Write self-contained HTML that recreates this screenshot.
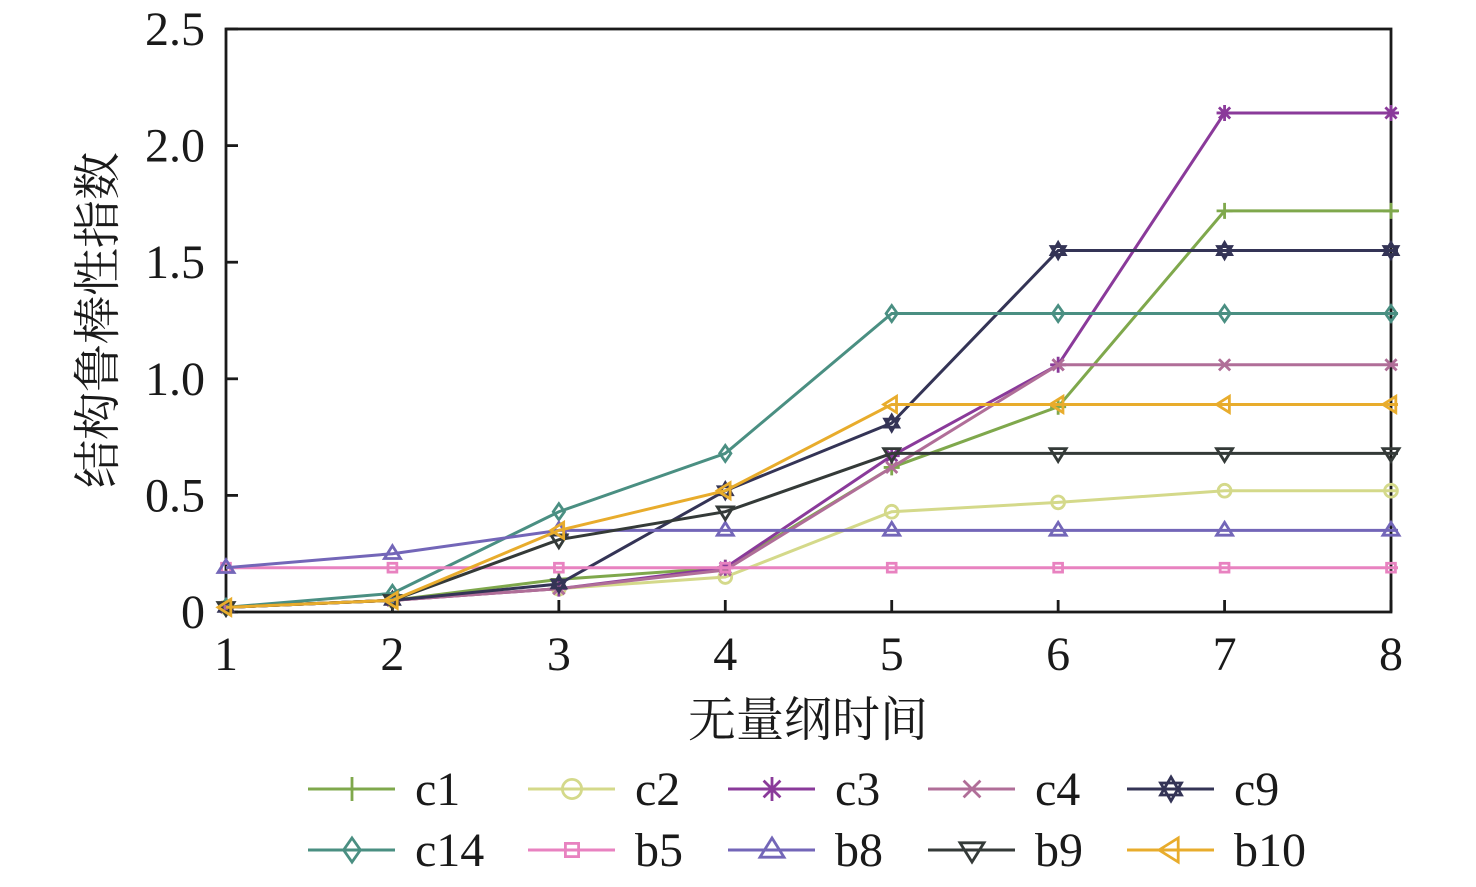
<!DOCTYPE html>
<html><head><meta charset="utf-8"><style>
body{margin:0;background:#fff}
svg text{font-family:"Liberation Serif","Noto Serif CJK SC",serif;fill:#1a1a1a}
</style></head><body>
<svg id="chart" width="1476" height="882" xmlns="http://www.w3.org/2000/svg">
<g id="plot"></g>
<text x="808" y="736" font-size="48" text-anchor="middle" style="font-family:'Noto Serif CJK SC',serif">无量纲时间</text>
<text transform="translate(114,320) rotate(-90)" font-size="48" text-anchor="middle" style="font-family:'Noto Serif CJK SC',serif">结构鲁棒性指数</text>
<g id="legend"></g>
</svg>
<script>
const xCats=[1,2,3,4,5,6,7,8];
const yTicks=[0,0.5,1.0,1.5,2.0,2.5];
const yTickLabels=["0","0.5","1.0","1.5","2.0","2.5"];
const seriesNames=["c1","c2","c3","c4","c9","c14","b5","b8","b9","b10"];
const c1=[0.02,0.05,0.14,0.19,0.62,0.88,1.72,1.72];
const c2=[0.02,0.05,0.10,0.15,0.43,0.47,0.52,0.52];
const c3=[0.02,0.05,0.10,0.19,0.67,1.06,2.14,2.14];
const c4=[0.02,0.05,0.10,0.18,0.62,1.06,1.06,1.06];
const c9=[0.02,0.05,0.12,0.52,0.81,1.55,1.55,1.55];
const c14=[0.02,0.08,0.43,0.68,1.28,1.28,1.28,1.28];
const b5=[0.19,0.19,0.19,0.19,0.19,0.19,0.19,0.19];
const b8=[0.19,0.25,0.35,0.35,0.35,0.35,0.35,0.35];
const b9=[0.02,0.05,0.31,0.43,0.68,0.68,0.68,0.68];
const b10=[0.02,0.05,0.35,0.52,0.89,0.89,0.89,0.89];
const seriesValues=[c1,c2,c3,c4,c9,c14,b5,b8,b9,b10];
const colors=["#7fa84c","#d4d98a","#8a3a9a","#b06e98","#343456","#4a8f82","#e882c0","#7366b8","#343a38","#e8ac2c"];
const markers=["plus","circle","star","x","david","diamond","square","tri","tridown","trileft"];
const X0=226,X1=1391,Y0=612,Y1=29;
const xs=v=>X0+(v-1)*(X1-X0)/7;
const ys=v=>Y0-v*(Y0-Y1)/2.5;
const NS="http://www.w3.org/2000/svg";
const plot=document.getElementById('plot');
function mk(tag,attrs,parent){const e=document.createElementNS(NS,tag);for(const k in attrs)e.setAttribute(k,attrs[k]);parent.appendChild(e);return e;}
function marker(type,cx,cy,col,parent,s){
  s=s||9;const g=mk('g',{stroke:col,'stroke-width':2.8,fill:'none'},parent);
  if(type==='plus'){mk('path',{d:`M${cx-s} ${cy}H${cx+s}M${cx} ${cy-s}V${cy+s}`},g);}
  else if(type==='circle'){mk('circle',{cx,cy,r:s*0.8},g);}
  else if(type==='star'){mk('path',{d:`M${cx-s} ${cy}H${cx+s}M${cx} ${cy-s}V${cy+s}M${cx-s*.7} ${cy-s*.7}L${cx+s*.7} ${cy+s*.7}M${cx-s*.7} ${cy+s*.7}L${cx+s*.7} ${cy-s*.7}`},g);}
  else if(type==='x'){mk('path',{d:`M${cx-s*.7} ${cy-s*.7}L${cx+s*.7} ${cy+s*.7}M${cx-s*.7} ${cy+s*.7}L${cx+s*.7} ${cy-s*.7}`},g);}
  else if(type==='david'){mk('path',{d:`M${cx} ${cy-s}L${cx+s*.87} ${cy+s*.5}H${cx-s*.87}ZM${cx} ${cy+s}L${cx+s*.87} ${cy-s*.5}H${cx-s*.87}Z`},g);}
  else if(type==='diamond'){mk('path',{d:`M${cx} ${cy-s}L${cx+s*.7} ${cy}L${cx} ${cy+s}L${cx-s*.7} ${cy}Z`},g);}
  else if(type==='square'){mk('rect',{x:cx-s*.55,y:cy-s*.55,width:s*1.1,height:s*1.1},g);}
  else if(type==='tri'){mk('path',{d:`M${cx} ${cy-s}L${cx+s} ${cy+s*.6}H${cx-s}Z`},g);}
  else if(type==='tridown'){mk('path',{d:`M${cx} ${cy+s}L${cx+s} ${cy-s*.6}H${cx-s}Z`},g);}
  else if(type==='trileft'){mk('path',{d:`M${cx-s} ${cy}L${cx+s*.6} ${cy-s}V${cy+s}Z`},g);}
  return g;
}
const fr=mk('rect',{x:X0,y:Y1,width:X1-X0,height:Y0-Y1,fill:'none',stroke:'#1a1a1a','stroke-width':2.8},plot);


yTicks.forEach((t,i)=>{
  const y=ys(t);
  const tk=mk('line',{x1:X0,x2:X0+12,y1:y,y2:y,stroke:'#1a1a1a','stroke-width':2.8},plot);
  
  
  const tx=mk('text',{x:205,y:y+16,'font-size':48,'text-anchor':'end'},plot);tx.textContent=yTickLabels[i];
  
  
});
xCats.forEach(c=>{
  const x=xs(c);
  const tk=mk('line',{x1:x,x2:x,y1:Y0,y2:Y0-12,stroke:'#1a1a1a','stroke-width':2.8},plot);
  
  
  const tx=mk('text',{x:x,y:670,'font-size':48,'text-anchor':'middle'},plot);tx.textContent=c;
  
  
});
seriesValues.forEach((vals,si)=>{
  const g=mk('g',{},plot);
  
  
  let d=vals.map((v,i)=>(i?'L':'M')+xs(xCats[i])+' '+ys(v)).join('');
  d+='H'+(X1+7);
  mk('path',{d,fill:'none',stroke:colors[si],'stroke-width':3},g);
  vals.forEach((v,i)=>{
    const m=marker(markers[si],xs(xCats[i]),ys(v),colors[si],g,8);
    
    
  });
});
const leg=document.getElementById('legend');
const colX=[308,528,728,928,1127];
seriesNames.forEach((n,i)=>{
  const x=colX[i%5],y=i<5?789:850;
  const g=mk('g',{},leg);
  
  
  mk('line',{x1:x,x2:x+87,y1:y,y2:y,stroke:colors[i],'stroke-width':3},g);
  marker(markers[i],x+44,y,colors[i],g,12);
  const t=mk('text',{x:x+107,y:y+16,'font-size':48},g);t.textContent=n;
});
</script>
</body></html>
